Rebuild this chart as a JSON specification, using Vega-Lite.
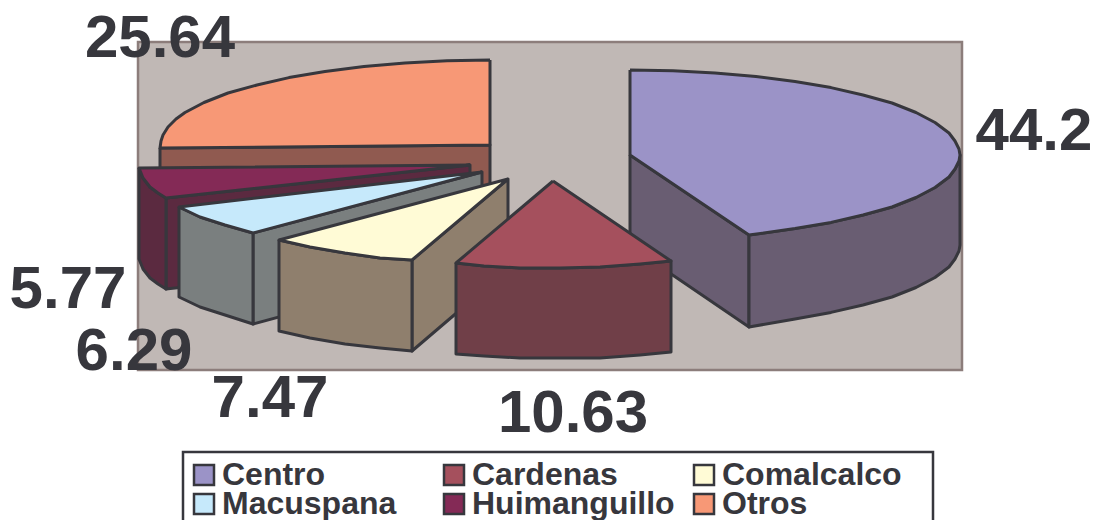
{"$schema":"https://vega.github.io/schema/vega-lite/v6.json","width":1096,"height":520,"padding":0,"autosize":"none","background":"white","view":{"stroke":null},"config":{"legend":{"gridAlign":"all"}},
"datasets":{
"panel":[{"x0":138,"x1":962,"y0":42,"y1":370}],
"frame":[{"x0":183,"x1":933,"y0":452,"y1":532}],
"labels":[{"slice":"Centro","value":44.2,"x":1034,"y":150},{"slice":"Cardenas","value":10.63,"x":573,"y":432},{"slice":"Comalcalco","value":7.47,"x":270,"y":417},{"slice":"Macuspana","value":6.29,"x":134,"y":370},{"slice":"Huimanguillo","value":5.77,"x":68,"y":308},{"slice":"Otros","value":25.64,"x":160,"y":57}],
"faces":[
{"part":"Otros lado","panel":1,"x":160,"y":148},{"part":"Otros lado","panel":1,"x":490,"y":145},{"part":"Otros lado","panel":1,"x":490,"y":235},{"part":"Otros lado","panel":1,"x":160,"y":238},{"part":"Otros lado","panel":1,"x":160,"y":148},
{"part":"Otros","panel":2,"x":490,"y":60},{"part":"Otros","panel":2,"x":447,"y":60.7},{"part":"Otros","panel":2,"x":405,"y":63},{"part":"Otros","panel":2,"x":364,"y":66.5},{"part":"Otros","panel":2,"x":325,"y":71.4},{"part":"Otros","panel":2,"x":289,"y":77.6},{"part":"Otros","panel":2,"x":257,"y":85},{"part":"Otros","panel":2,"x":228,"y":93},{"part":"Otros","panel":2,"x":204,"y":102.5},{"part":"Otros","panel":2,"x":185,"y":112.5},{"part":"Otros","panel":2,"x":176,"y":119},{"part":"Otros","panel":2,"x":168,"y":127},{"part":"Otros","panel":2,"x":163,"y":135},{"part":"Otros","panel":2,"x":161,"y":141},{"part":"Otros","panel":2,"x":160,"y":148},{"part":"Otros","panel":2,"x":490,"y":145},{"part":"Otros","panel":2,"x":490,"y":60},
{"part":"Huimanguillo lado","panel":3,"x":166,"y":198},{"part":"Huimanguillo lado","panel":3,"x":470,"y":165},{"part":"Huimanguillo lado","panel":3,"x":470,"y":255},{"part":"Huimanguillo lado","panel":3,"x":166,"y":289},{"part":"Huimanguillo lado","panel":3,"x":166,"y":198},
{"part":"Huimanguillo lado","panel":4,"x":139,"y":168},{"part":"Huimanguillo lado","panel":4,"x":143,"y":178},{"part":"Huimanguillo lado","panel":4,"x":150,"y":187},{"part":"Huimanguillo lado","panel":4,"x":158,"y":193},{"part":"Huimanguillo lado","panel":4,"x":166,"y":198},{"part":"Huimanguillo lado","panel":4,"x":166,"y":289},{"part":"Huimanguillo lado","panel":4,"x":158,"y":284},{"part":"Huimanguillo lado","panel":4,"x":150,"y":278},{"part":"Huimanguillo lado","panel":4,"x":143,"y":269},{"part":"Huimanguillo lado","panel":4,"x":139,"y":259},{"part":"Huimanguillo lado","panel":4,"x":139,"y":168},
{"part":"Huimanguillo","panel":5,"x":470,"y":165},{"part":"Huimanguillo","panel":5,"x":139,"y":168},{"part":"Huimanguillo","panel":5,"x":143,"y":178},{"part":"Huimanguillo","panel":5,"x":150,"y":187},{"part":"Huimanguillo","panel":5,"x":158,"y":193},{"part":"Huimanguillo","panel":5,"x":166,"y":198},{"part":"Huimanguillo","panel":5,"x":470,"y":165},
{"part":"Macuspana lado","panel":6,"x":253,"y":233},{"part":"Macuspana lado","panel":6,"x":482,"y":172},{"part":"Macuspana lado","panel":6,"x":482,"y":262},{"part":"Macuspana lado","panel":6,"x":253,"y":324},{"part":"Macuspana lado","panel":6,"x":253,"y":233},
{"part":"Macuspana lado","panel":7,"x":179,"y":207},{"part":"Macuspana lado","panel":7,"x":200,"y":217},{"part":"Macuspana lado","panel":7,"x":225,"y":225},{"part":"Macuspana lado","panel":7,"x":253,"y":233},{"part":"Macuspana lado","panel":7,"x":253,"y":324},{"part":"Macuspana lado","panel":7,"x":225,"y":315},{"part":"Macuspana lado","panel":7,"x":200,"y":307},{"part":"Macuspana lado","panel":7,"x":179,"y":297},{"part":"Macuspana lado","panel":7,"x":179,"y":207},
{"part":"Macuspana","panel":8,"x":482,"y":172},{"part":"Macuspana","panel":8,"x":179,"y":207},{"part":"Macuspana","panel":8,"x":200,"y":217},{"part":"Macuspana","panel":8,"x":225,"y":225},{"part":"Macuspana","panel":8,"x":253,"y":233},{"part":"Macuspana","panel":8,"x":482,"y":172},
{"part":"Comalcalco lado","panel":9,"x":412,"y":260},{"part":"Comalcalco lado","panel":9,"x":508,"y":179},{"part":"Comalcalco lado","panel":9,"x":508,"y":269},{"part":"Comalcalco lado","panel":9,"x":412,"y":351},{"part":"Comalcalco lado","panel":9,"x":412,"y":260},
{"part":"Comalcalco lado","panel":10,"x":279,"y":240},{"part":"Comalcalco lado","panel":10,"x":310,"y":247},{"part":"Comalcalco lado","panel":10,"x":345,"y":253},{"part":"Comalcalco lado","panel":10,"x":380,"y":258},{"part":"Comalcalco lado","panel":10,"x":412,"y":260},{"part":"Comalcalco lado","panel":10,"x":412,"y":351},{"part":"Comalcalco lado","panel":10,"x":380,"y":348},{"part":"Comalcalco lado","panel":10,"x":345,"y":344},{"part":"Comalcalco lado","panel":10,"x":310,"y":338},{"part":"Comalcalco lado","panel":10,"x":279,"y":331},{"part":"Comalcalco lado","panel":10,"x":279,"y":240},
{"part":"Comalcalco","panel":11,"x":508,"y":179},{"part":"Comalcalco","panel":11,"x":279,"y":240},{"part":"Comalcalco","panel":11,"x":310,"y":247},{"part":"Comalcalco","panel":11,"x":345,"y":253},{"part":"Comalcalco","panel":11,"x":380,"y":258},{"part":"Comalcalco","panel":11,"x":412,"y":260},{"part":"Comalcalco","panel":11,"x":508,"y":179},
{"part":"Centro lado","panel":12,"x":630,"y":155},{"part":"Centro lado","panel":12,"x":749,"y":235},{"part":"Centro lado","panel":12,"x":749,"y":327},{"part":"Centro lado","panel":12,"x":630,"y":246},{"part":"Centro lado","panel":12,"x":630,"y":155},
{"part":"Centro lado","panel":13,"x":749,"y":235},{"part":"Centro lado","panel":13,"x":795,"y":228.6},{"part":"Centro lado","panel":13,"x":831,"y":222.4},{"part":"Centro lado","panel":13,"x":863,"y":215},{"part":"Centro lado","panel":13,"x":892,"y":207},{"part":"Centro lado","panel":13,"x":916,"y":197.5},{"part":"Centro lado","panel":13,"x":935,"y":187.5},{"part":"Centro lado","panel":13,"x":949,"y":177},{"part":"Centro lado","panel":13,"x":955,"y":169},{"part":"Centro lado","panel":13,"x":959,"y":161},{"part":"Centro lado","panel":13,"x":960,"y":155},{"part":"Centro lado","panel":13,"x":960,"y":245},{"part":"Centro lado","panel":13,"x":959,"y":251},{"part":"Centro lado","panel":13,"x":955,"y":259},{"part":"Centro lado","panel":13,"x":949,"y":267},{"part":"Centro lado","panel":13,"x":935,"y":277.5},{"part":"Centro lado","panel":13,"x":916,"y":287.5},{"part":"Centro lado","panel":13,"x":892,"y":297},{"part":"Centro lado","panel":13,"x":863,"y":305},{"part":"Centro lado","panel":13,"x":831,"y":312.4},{"part":"Centro lado","panel":13,"x":795,"y":319},{"part":"Centro lado","panel":13,"x":749,"y":327},{"part":"Centro lado","panel":13,"x":749,"y":235},
{"part":"Centro","panel":14,"x":630,"y":70},{"part":"Centro","panel":14,"x":673,"y":70.7},{"part":"Centro","panel":14,"x":715,"y":73},{"part":"Centro","panel":14,"x":756,"y":76.5},{"part":"Centro","panel":14,"x":795,"y":81.4},{"part":"Centro","panel":14,"x":831,"y":87.6},{"part":"Centro","panel":14,"x":863,"y":95},{"part":"Centro","panel":14,"x":892,"y":103},{"part":"Centro","panel":14,"x":916,"y":112.5},{"part":"Centro","panel":14,"x":935,"y":122.5},{"part":"Centro","panel":14,"x":949,"y":133},{"part":"Centro","panel":14,"x":955,"y":141},{"part":"Centro","panel":14,"x":959,"y":149},{"part":"Centro","panel":14,"x":960,"y":155},{"part":"Centro","panel":14,"x":959,"y":161},{"part":"Centro","panel":14,"x":955,"y":169},{"part":"Centro","panel":14,"x":949,"y":177},{"part":"Centro","panel":14,"x":935,"y":187.5},{"part":"Centro","panel":14,"x":916,"y":197.5},{"part":"Centro","panel":14,"x":892,"y":207},{"part":"Centro","panel":14,"x":863,"y":215},{"part":"Centro","panel":14,"x":831,"y":222.4},{"part":"Centro","panel":14,"x":795,"y":228.6},{"part":"Centro","panel":14,"x":749,"y":235},{"part":"Centro","panel":14,"x":630,"y":155},{"part":"Centro","panel":14,"x":630,"y":70},
{"part":"Cardenas lado","panel":15,"x":456,"y":263},{"part":"Cardenas lado","panel":15,"x":484,"y":266},{"part":"Cardenas lado","panel":15,"x":520,"y":268},{"part":"Cardenas lado","panel":15,"x":560,"y":268},{"part":"Cardenas lado","panel":15,"x":600,"y":267},{"part":"Cardenas lado","panel":15,"x":640,"y":264},{"part":"Cardenas lado","panel":15,"x":671,"y":261},{"part":"Cardenas lado","panel":15,"x":671,"y":352},{"part":"Cardenas lado","panel":15,"x":640,"y":355},{"part":"Cardenas lado","panel":15,"x":600,"y":358},{"part":"Cardenas lado","panel":15,"x":560,"y":358},{"part":"Cardenas lado","panel":15,"x":520,"y":358},{"part":"Cardenas lado","panel":15,"x":484,"y":356},{"part":"Cardenas lado","panel":15,"x":456,"y":354},{"part":"Cardenas lado","panel":15,"x":456,"y":263},
{"part":"Cardenas","panel":16,"x":553,"y":181},{"part":"Cardenas","panel":16,"x":456,"y":263},{"part":"Cardenas","panel":16,"x":484,"y":266},{"part":"Cardenas","panel":16,"x":520,"y":268},{"part":"Cardenas","panel":16,"x":560,"y":268},{"part":"Cardenas","panel":16,"x":600,"y":267},{"part":"Cardenas","panel":16,"x":640,"y":264},{"part":"Cardenas","panel":16,"x":671,"y":261},{"part":"Cardenas","panel":16,"x":553,"y":181}
]},
"layer":[
{"data":{"name":"panel"},"mark":{"type":"rect","fill":"#c0b8b5","stroke":"#8c7d7b","strokeWidth":2.5},"encoding":{"x":{"field":"x0","type":"quantitative","scale":{"domain":[0,1096]},"axis":null},"x2":{"field":"x1"},"y":{"field":"y0","type":"quantitative","scale":{"domain":[520,0]},"axis":null},"y2":{"field":"y1"}}},
{"data":{"name":"frame"},"mark":{"type":"rect","fill":"white","stroke":"#37373d","strokeWidth":2.5,"clip":false},"encoding":{"x":{"field":"x0","type":"quantitative","scale":{"domain":[0,1096]},"axis":null},"x2":{"field":"x1"},"y":{"field":"y0","type":"quantitative","scale":{"domain":[520,0]},"axis":null},"y2":{"field":"y1"}}},
{"data":{"name":"faces"},"transform":[{"window":[{"op":"row_number","as":"seq"}]}],"mark":{"type":"line","filled":true,"stroke":"#37373d","strokeWidth":3,"strokeJoin":"round","fillOpacity":1},"encoding":{
"x":{"field":"x","type":"quantitative","scale":{"domain":[0,1096]},"axis":null},
"y":{"field":"y","type":"quantitative","scale":{"domain":[520,0]},"axis":null},
"order":{"field":"seq","type":"quantitative"},
"detail":{"field":"panel","type":"nominal"},
"color":{"field":"part","type":"nominal","scale":{"domain":["Centro","Cardenas","Comalcalco","Macuspana","Huimanguillo","Otros","Centro lado","Cardenas lado","Comalcalco lado","Macuspana lado","Huimanguillo lado","Otros lado"],"range":["#9b93c7","#a5505d","#fffbd6","#c6e9fb","#842a56","#f79876","#695d72","#703f48","#8f7f6d","#7a7f7f","#5b2a40","#905a50"]},
"legend":{"values":["Centro","Macuspana","Cardenas","Huimanguillo","Comalcalco","Otros"],"title":null,"orient":"none","legendX":183,"legendY":457,"columns":3,"columnPadding":13,"rowPadding":-4,"padding":5,"symbolType":"square","symbolSize":400,"symbolStrokeColor":"#37373d","symbolStrokeWidth":2.5,"labelFont":"Liberation Sans","labelFontWeight":"bold","labelFontSize":32,"labelColor":"#37373d","labelOffset":2,"labelLimit":240,"clipHeight":26}}}},
{"data":{"name":"labels"},"mark":{"type":"text","font":"Liberation Sans","fontWeight":"bold","fontSize":60,"align":"center","baseline":"alphabetic","color":"#37373d"},"encoding":{"x":{"field":"x","type":"quantitative","scale":{"domain":[0,1096]},"axis":null},"y":{"field":"y","type":"quantitative","scale":{"domain":[520,0]},"axis":null},"text":{"field":"value","type":"quantitative"}}}
]}
